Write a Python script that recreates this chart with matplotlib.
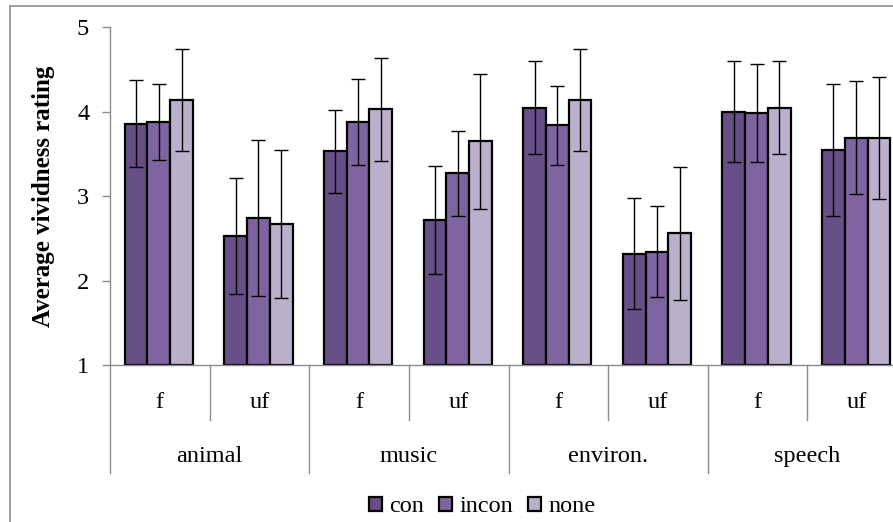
import numpy as np
import matplotlib.pyplot as plt
from matplotlib.patches import Rectangle

plt.rcParams['font.family'] = ['Liberation Serif', 'DejaVu Serif']

groups = ['animal', 'music', 'environ.', 'speech']
subcats = ['f', 'uf']
series = ['con', 'incon', 'none']

# mean ratings, one entry per (group, subcat): animal f, animal uf, music f, ...
con = [3.86, 2.53, 3.53, 2.72, 4.05, 2.32, 4.00, 3.55]
incon = [3.88, 2.74, 3.88, 3.27, 3.84, 2.34, 3.98, 3.69]
none = [4.14, 2.67, 4.03, 3.65, 4.14, 2.56, 4.05, 3.69]

con_err = [0.51, 0.69, 0.49, 0.64, 0.55, 0.66, 0.60, 0.78]
incon_err = [0.45, 0.92, 0.51, 0.50, 0.47, 0.54, 0.58, 0.67]
none_err = [0.60, 0.88, 0.61, 0.80, 0.60, 0.79, 0.55, 0.72]

colors = ['#684f87', '#8064a2', '#bbb0cc']
grey = '#8c8c8c'

W, H = 893, 522
fig = plt.figure(figsize=(W / 100, H / 100), dpi=100)

# outer chart frame (cropped on the right and bottom)
fig.patches.append(Rectangle((10 / W, -0.2), 1.2, 1.2 - 5.5 / H,
                             transform=fig.transFigure, fill=False,
                             edgecolor=grey, linewidth=1.2))

ax = fig.add_axes([110 / W, 157 / H, 797 / W, 337.7 / H])

x = np.arange(len(con)) + 0.49
bw = 0.228
for i, (vals, errs) in enumerate(zip([con, incon, none], [con_err, incon_err, none_err])):
    ax.bar(x + (i - 1) * bw, np.array(vals) - 1, bw, bottom=1, color=colors[i],
           edgecolor='black', linewidth=1.6, label=series[i], zorder=2)
    ax.errorbar(x + (i - 1) * bw, vals, yerr=errs, fmt='none', ecolor='black',
                elinewidth=1, capsize=5, capthick=1, zorder=3)

ax.set_xlim(0, 8)
ax.set_ylim(1, 5)
ax.set_yticks([1, 2, 3, 4, 5])
ax.set_xticks([])
for s in ['top', 'right']:
    ax.spines[s].set_visible(False)
for s in ['left', 'bottom']:
    ax.spines[s].set_color(grey)
    ax.spines[s].set_linewidth(1)
ax.tick_params(axis='y', direction='out', length=6, width=1, color=grey,
               pad=9, labelsize=17.5)

# two-level category axis
tr = ax.get_xaxis_transform()
for k in range(9):
    ylow = -0.32 if k % 2 == 0 else -0.163
    ax.plot([k, k], [0, ylow], color=grey, linewidth=1, transform=tr, clip_on=False)
for k in range(8):
    ax.text(k + 0.5, -0.112, subcats[k % 2], transform=tr, ha='center', va='center',
            fontsize=17.5)
for g, name in enumerate(groups):
    ax.text(2 * g + 1, -0.272, name, transform=tr, ha='center', va='center',
            fontsize=17.5)

fig.text(44 / W, 1 - 196 / H, 'Average vividness rating', rotation=90,
         ha='center', va='center', fontsize=18, fontweight='bold')

fig.legend(loc='center', bbox_to_anchor=(482 / W, 1 - 507 / H), ncol=3,
           frameon=False, fontsize=17.5, handlelength=0.55, handleheight=0.55,
           handletextpad=0.3, columnspacing=0.6, borderaxespad=0)

fig.savefig('out.png', dpi=100)
